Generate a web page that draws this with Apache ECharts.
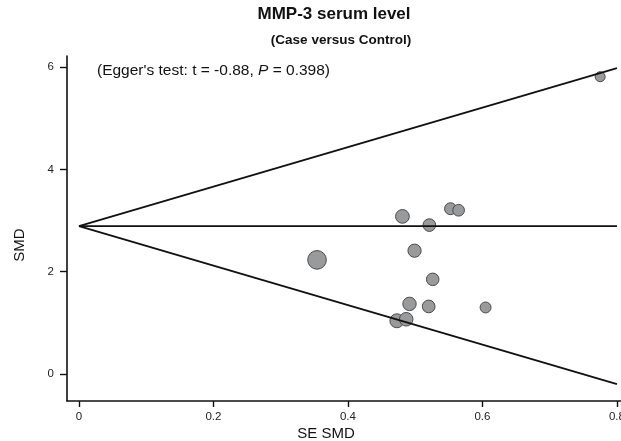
<!DOCTYPE html>
<html>
<head>
<meta charset="utf-8">
<script src="https://cdn.jsdelivr.net/npm/echarts@6/dist/echarts.min.js"></script>
<style>
  html, body { margin: 0; padding: 0; background: #fff; }
  #chart { width: 621px; height: 441px; }
</style>
</head>
<body>
<div id="chart"></div>
<script>
// study points: standard error and SMD
var seSMD = [0.775, 0.481, 0.5525, 0.5645, 0.521, 0.354, 0.499, 0.526, 0.4915, 0.520, 0.6046, 0.4727, 0.4866];
var smd = [5.81, 3.08, 3.23, 3.20, 2.91, 2.23, 2.41, 1.85, 1.37, 1.32, 1.30, 1.04, 1.07];

// pooled estimate and funnel limits
var pooled = 2.89;
var funnelSE = [0, 0.8];
var upperLimit = [2.89, 5.98];
var lowerLimit = [2.89, -0.2];

var xTicks = [0, 0.2, 0.4, 0.6, 0.8];
var yTicks = [0, 2, 4, 6];

var points = [];
for (var i = 0; i < seSMD.length; i++) {
    points.push([seSMD[i], smd[i]]);
}

var lineData = function (ys) {
    return funnelSE.map(function (x, i) { return [x, ys[i]]; });
};

var myChart = echarts.init(document.getElementById('chart'));

var fontFamily = '"Liberation Sans", Arial, sans-serif';
var lineStyle = { color: '#111', width: 1.8 };

option = {
    animation: false,
    backgroundColor: '#fff',
    textStyle: { fontFamily: fontFamily },
    grid: { left: 67, right: 0, top: 56, bottom: 40, outerBoundsMode: 'none', containLabel: false },
    graphic: [
        {
            type: 'text', x: 334, y: 6,
            style: { text: 'MMP-3 serum level', font: 'bold 17px ' + fontFamily, fill: '#111', textAlign: 'center' }
        },
        {
            type: 'text', x: 341, y: 33,
            style: { text: '(Case versus Control)', font: 'bold 13.5px ' + fontFamily, fill: '#111', textAlign: 'center' }
        },
        {
            type: 'text', x: 97, y: 63,
            style: {
                text: "{n|(Egger's test: t = -0.88, }{i|P}{n| = 0.398)}",
                rich: {
                    n: { fontSize: 15.5, fontFamily: fontFamily, fill: '#111' },
                    i: { fontSize: 15.5, fontFamily: fontFamily, fontStyle: 'italic', fill: '#111' }
                }
            }
        },
        {
            type: 'text', x: 326, y: 426,
            style: { text: 'SE SMD', font: '15px ' + fontFamily, fill: '#111', textAlign: 'center' }
        },
        {
            type: 'text', x: 12, y: 245, rotation: Math.PI / 2,
            style: { text: 'SMD', font: '15px ' + fontFamily, fill: '#111', textAlign: 'center' }
        }
    ],
    xAxis: {
        type: 'value',
        min: -0.0178,
        max: 0.806,
        axisLine: { onZero: false, lineStyle: { color: '#111', width: 1.6 } },
        axisTick: { customValues: xTicks, length: 6, lineStyle: { color: '#111', width: 1.4 } },
        axisLabel: { customValues: xTicks, fontSize: 11.5, color: '#222', margin: 10 },
        splitLine: { show: false }
    },
    yAxis: {
        type: 'value',
        min: -0.528,
        max: 6.215,
        axisLine: { show: true, onZero: false, lineStyle: { color: '#111', width: 1.6 } },
        axisTick: { show: true, customValues: yTicks, length: 7, lineStyle: { color: '#111', width: 1.4 } },
        axisLabel: { customValues: yTicks, fontSize: 11.5, color: '#222', margin: 13 },
        splitLine: { show: false }
    },
    series: [
        {
            type: 'line', data: lineData(upperLimit), symbol: 'none',
            lineStyle: lineStyle, silent: true
        },
        {
            type: 'line', data: lineData(lowerLimit), symbol: 'none',
            lineStyle: lineStyle, silent: true
        },
        {
            type: 'line', data: lineData([pooled, pooled]), symbol: 'none',
            lineStyle: lineStyle, silent: true
        },
        {
            type: 'scatter',
            data: points,
            symbol: 'circle',
            symbolSize: function (v) { return Math.max(10, 6.6 / v[0]); },
            itemStyle: { color: '#999a9c', borderColor: '#4a4a4a', borderWidth: 1, opacity: 1 }
        }
    ]
};

myChart.setOption(option);
</script>
</body>
</html>
